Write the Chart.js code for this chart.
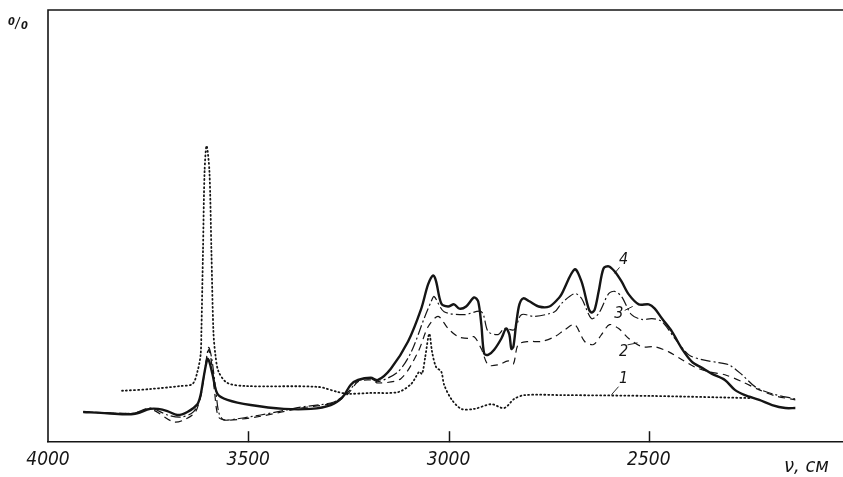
<!DOCTYPE html>
<html>
<head>
<meta charset="utf-8">
<script src="https://cdn.jsdelivr.net/npm/chart.js@4.4.1/dist/chart.umd.min.js"></script>
<style>
  html, body { margin: 0; padding: 0; background: #fff; }
  #wrap { width: 843px; height: 477px; }
</style>
</head>
<body>
<div id="wrap"><canvas id="spectrum"></canvas></div>
<script>
// ---------------- data (wavenumber cm-1 / intensity %) ----------------
const tickValues = [4000, 3500, 3000, 2500];

// curve 1 - dotted
const curve1Nu = [3815, 3745, 3669, 3639, 3627, 3619, 3617, 3613, 3609, 3604, 3597, 3592, 3587, 3582, 3574, 3552, 3507, 3326, 3276, 3251, 3194, 3126, 3093, 3073, 3066, 3058, 3048, 3041, 3031, 3018, 3011, 2993, 2968, 2936, 2893, 2861, 2836, 2810, 2718, 2492, 2242];
const curve1Val = [11.9, 12.3, 13.0, 13.5, 16.3, 20.2, 25.6, 44.2, 62.8, 68.6, 62.8, 44.2, 25.6, 20.2, 16.3, 13.7, 13.0, 12.8, 11.6, 11.2, 11.4, 11.6, 13.5, 16.3, 15.8, 19.8, 25.1, 20.9, 17.4, 16.3, 13.3, 10.0, 7.7, 7.7, 8.8, 7.9, 10.0, 10.9, 10.9, 10.7, 10.2];

// curve 2 - dashed
const curve2Nu = [3912, 3787, 3745, 3687, 3662, 3632, 3617, 3607, 3599, 3592, 3584, 3574, 3552, 3469, 3369, 3286, 3251, 3226, 3194, 3176, 3119, 3076, 3051, 3026, 3001, 2976, 2951, 2936, 2918, 2901, 2876, 2851, 2838, 2826, 2800, 2768, 2735, 2710, 2685, 2660, 2638, 2618, 2598, 2575, 2550, 2517, 2485, 2450, 2417, 2385, 2350, 2310, 2267, 2224, 2184, 2134];
const curve2Val = [7.0, 6.7, 7.7, 4.7, 5.1, 7.0, 11.6, 17.4, 21.4, 18.6, 11.6, 5.8, 5.1, 6.0, 7.9, 9.1, 11.2, 14.0, 14.4, 13.7, 14.7, 20.9, 26.7, 29.1, 26.3, 24.4, 24.0, 24.4, 21.6, 17.9, 17.9, 18.8, 18.1, 22.6, 23.3, 23.3, 24.4, 26.0, 27.2, 23.3, 22.6, 24.9, 27.2, 26.3, 24.0, 22.1, 22.1, 20.9, 19.1, 17.4, 16.3, 15.6, 14.0, 12.1, 10.7, 9.8];

// curve 3 - dash-dot
const curve3Nu = [3912, 3787, 3745, 3702, 3669, 3637, 3619, 3609, 3599, 3592, 3582, 3574, 3564, 3552, 3469, 3369, 3286, 3251, 3226, 3194, 3176, 3126, 3093, 3061, 3043, 3036, 3011, 2961, 2918, 2901, 2876, 2861, 2836, 2818, 2785, 2735, 2718, 2685, 2668, 2643, 2625, 2600, 2585, 2568, 2543, 2517, 2492, 2467, 2435, 2400, 2367, 2325, 2300, 2267, 2234, 2192, 2134];
const curve3Val = [7.0, 6.7, 7.9, 6.3, 5.8, 7.0, 10.5, 16.3, 21.9, 19.8, 12.8, 7.0, 5.3, 5.1, 6.3, 8.1, 9.3, 11.6, 14.2, 14.7, 14.0, 16.3, 20.9, 28.6, 32.6, 33.7, 30.2, 29.5, 30.2, 25.6, 24.9, 26.3, 26.0, 29.5, 29.1, 30.2, 32.1, 34.4, 33.3, 28.6, 29.8, 34.4, 34.9, 33.7, 29.5, 28.4, 28.6, 27.9, 24.0, 20.2, 19.1, 18.4, 17.9, 15.6, 12.8, 11.2, 10.0];

// curve 4 - solid, heavy
const curve4Nu = [3912, 3852, 3787, 3745, 3725, 3702, 3677, 3652, 3627, 3619, 3612, 3602, 3597, 3589, 3577, 3552, 3494, 3411, 3344, 3294, 3264, 3244, 3226, 3194, 3176, 3144, 3101, 3068, 3051, 3038, 3031, 3018, 3001, 2986, 2973, 2956, 2936, 2926, 2918, 2911, 2901, 2886, 2868, 2856, 2848, 2843, 2838, 2831, 2823, 2813, 2798, 2775, 2748, 2725, 2718, 2685, 2668, 2650, 2643, 2635, 2625, 2613, 2600, 2585, 2568, 2550, 2525, 2500, 2485, 2467, 2442, 2417, 2392, 2367, 2342, 2310, 2285, 2260, 2224, 2192, 2159, 2134];
const curve4Val = [7.0, 6.7, 6.5, 7.7, 7.7, 7.2, 6.3, 7.0, 8.8, 10.9, 14.7, 19.3, 18.6, 15.6, 11.2, 9.8, 8.6, 7.7, 7.7, 8.6, 10.5, 13.3, 14.4, 14.9, 14.4, 17.0, 23.3, 30.9, 36.5, 38.6, 37.2, 32.1, 31.4, 31.9, 30.9, 31.4, 33.5, 32.6, 27.2, 20.5, 20.2, 21.4, 24.0, 26.3, 24.9, 21.6, 22.1, 27.4, 31.9, 33.3, 32.6, 31.4, 31.4, 33.3, 34.2, 40.0, 37.2, 30.9, 30.0, 30.7, 34.9, 40.2, 40.7, 39.5, 37.2, 34.2, 31.9, 31.9, 30.9, 28.6, 25.6, 21.6, 18.6, 17.2, 15.8, 14.4, 12.1, 10.9, 9.8, 8.6, 7.9, 7.9];

// curve numbers written on the plot
const curveNames = ['1', '2', '3', '4'];
const curveNameNu = [2563, 2563, 2575, 2563];
const curveNameVal = [14.7, 20.9, 29.8, 42.3];

// ---------------- chart ------------------------
const drawFont = "'Liberation Sans Narrow', 'DejaVu Sans Condensed', 'Liberation Sans', sans-serif";
const ink = '#151515';

function pts(nu, val) {
    return nu.map((v, i) => ({ x: v, y: val[i] }));
}

// frame, inner tick marks, curve numbers and axis words
const decor = {
    id: 'decor',
    afterDraw(chart) {
        const ctx = chart.ctx;
        const a = chart.chartArea;
        const xs = chart.scales.x;
        const ys = chart.scales.y;
        ctx.save();
        ctx.strokeStyle = ink;
        ctx.lineWidth = 1.6;
        ctx.beginPath();
        ctx.moveTo(a.left, a.bottom);
        ctx.lineTo(a.left, a.top);
        ctx.lineTo(a.right, a.top);
        ctx.stroke();

        // short ticks standing up from the x axis
        ctx.lineWidth = 1.5;
        tickValues.slice(1).forEach(v => {
            const px = Math.round(xs.getPixelForValue(v)) + 0.5;
            ctx.beginPath();
            ctx.moveTo(px, a.bottom);
            ctx.lineTo(px, a.bottom - 11);
            ctx.stroke();
        });

        // curve numbers with little leader strokes
        const leaders = [[-5, 8, -12, 16], [4, -7, 14, -9], [6, -3, 14, -7], [-4, 8, -9, 14]];
        ctx.fillStyle = ink;
        ctx.font = 'italic 16px ' + drawFont;
        ctx.textAlign = 'center';
        ctx.textBaseline = 'middle';
        ctx.lineWidth = 0.9;
        curveNames.forEach((n, i) => {
            const px = xs.getPixelForValue(curveNameNu[i]);
            const py = ys.getPixelForValue(curveNameVal[i]);
            ctx.fillText(n, px, py);
            const l = leaders[i];
            ctx.beginPath();
            ctx.moveTo(px + l[0], py + l[1]);
            ctx.lineTo(px + l[2], py + l[3]);
            ctx.stroke();
        });

        // "%" at the top of the y axis
        ctx.font = 'italic bold 11px ' + drawFont;
        ctx.textAlign = 'left';
        ctx.textBaseline = 'alphabetic';
        ctx.fillText('0', 8, 25);
        ctx.fillText('0', 21, 29);
        ctx.lineWidth = 1.1;
        ctx.beginPath();
        ctx.moveTo(15, 29);
        ctx.lineTo(20, 17);
        ctx.stroke();

        // x axis name
        ctx.font = 'italic 20px ' + drawFont;
        ctx.fillText('ν, см', 784, 472);
        ctx.restore();
    }
};

new Chart(document.getElementById('spectrum'), {
    type: 'line',
    data: {
        datasets: [
            {
                label: '1',
                data: pts(curve1Nu, curve1Val),
                borderColor: ink,
                borderWidth: 1.8,
                borderDash: [1, 3],
                borderCapStyle: 'round'
            },
            {
                label: '2',
                data: pts(curve2Nu, curve2Val),
                borderColor: ink,
                borderWidth: 1.2,
                borderDash: [7, 5]
            },
            {
                label: '3',
                data: pts(curve3Nu, curve3Val),
                borderColor: ink,
                borderWidth: 1.2,
                borderDash: [10, 3, 2, 3]
            },
            {
                label: '4',
                data: pts(curve4Nu, curve4Val),
                borderColor: ink,
                borderWidth: 2.4
            }
        ]
    },
    options: {
        responsive: true,
        maintainAspectRatio: false,
        animation: false,
        layout: {
            padding: { left: 48, top: 10, right: 0, bottom: 0 }
        },
        elements: {
            point: { radius: 0 },
            line: { tension: 0.3, fill: false }
        },
        scales: {
            x: {
                type: 'linear',
                reverse: true,
                min: 2015,
                max: 4000,
                afterBuildTicks: (axis) => {
                    axis.ticks = tickValues.map(v => ({ value: v }));
                },
                ticks: {
                    autoSkip: false,
                    maxRotation: 0,
                    padding: 6,
                    color: ink,
                    font: { family: drawFont, style: 'italic', size: 19 },
                    callback: (v) => String(v)
                },
                grid: { display: false, drawTicks: false },
                border: { display: true, color: ink, width: 1.6 }
            },
            y: {
                display: false,
                min: 0,
                max: 100
            }
        },
        plugins: {
            legend: { display: false },
            tooltip: { enabled: false }
        }
    },
    plugins: [decor]
});
</script>
</body>
</html>
